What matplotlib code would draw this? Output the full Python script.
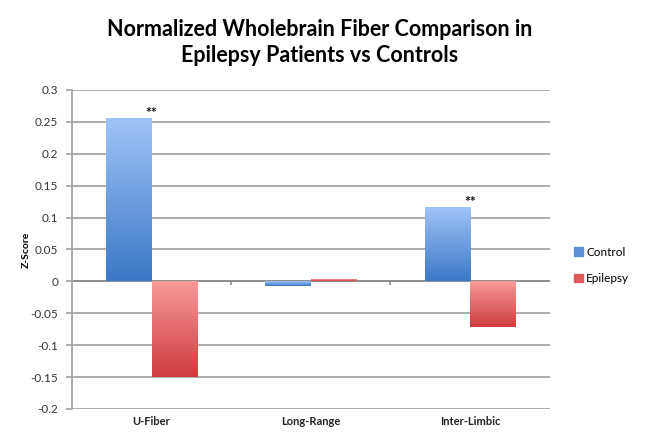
import matplotlib
matplotlib.use("Agg")
import matplotlib.pyplot as plt
import numpy as np
from matplotlib.colors import LinearSegmentedColormap

categories = ["U-Fiber", "Long-Range", "Inter-Limbic"]
control = [0.255, -0.007, 0.115]
epilepsy = [-0.150, 0.003, -0.071]
significant = [True, False, True]
series_names = ["Control", "Epilepsy"]
yticks = [-0.2, -0.15, -0.1, -0.05, 0, 0.05, 0.1, 0.15, 0.2, 0.25, 0.3]
ytick_labels = ["-0.2", "-0.15", "-0.1", "-0.05", "0", "0.05", "0.1", "0.15", "0.2", "0.25", "0.3"]

FONT = ["Lato", "DejaVu Sans"]
plt.rcParams['font.family'] = FONT

fig = plt.figure(figsize=(6.57, 4.42), dpi=100)
ax = fig.add_axes([0.1096, 0.0747, 0.727, 0.7217])

x = np.arange(len(categories))
w = 0.286
grid_c = "#a6a6a6"

blue_cmap = LinearSegmentedColormap.from_list("b", ["#3b78c6", "#9fc4f8"])
red_cmap = LinearSegmentedColormap.from_list("r", ["#cf3c3c", "#f69a99"])

b1 = ax.bar(x - w/2, control, w, color="#5b8fd6", label=series_names[0], zorder=3)
b2 = ax.bar(x + w/2, epilepsy, w, color="#e05a5a", label=series_names[1], zorder=3)

grad = np.linspace(0, 1, 256).reshape(-1, 1)
for bars, cmap in ((b1, blue_cmap), (b2, red_cmap)):
    for p in bars:
        x0 = p.get_x(); y0 = p.get_y(); pw = p.get_width(); ph = p.get_height()
        ylo, yhi = min(y0, y0 + ph), max(y0, y0 + ph)
        ax.imshow(grad, cmap=cmap, aspect='auto', origin='lower',
                  extent=(x0, x0 + pw, ylo, yhi), zorder=3, interpolation='bilinear')
        p.set_facecolor('none')
        p.set_edgecolor('none')

ax.set_xlim(-0.5, 2.5)
ax.set_ylim(-0.2, 0.3)
ax.set_yticks(yticks)
ax.set_yticklabels(ytick_labels, fontsize=8.5, color="#333333")
ax.yaxis.grid(True, color=grid_c, linewidth=1.3, zorder=0)
ax.set_axisbelow(True)

for s in ["top", "right", "bottom"]:
    ax.spines[s].set_visible(False)
ax.spines["left"].set_color(grid_c)
ax.spines["left"].set_linewidth(1.3)
ax.tick_params(axis='y', direction='out', length=4, color=grid_c, width=1.3, pad=6)

ax.set_xticks(x)
ax.set_xticklabels(categories, fontsize=8, fontweight='bold', color="#222222")
ax.tick_params(axis='x', length=0, pad=5)

ax.axhline(0, color="#8c8c8c", linewidth=1.3, zorder=2)
sec = ax.secondary_xaxis(0.4)
sec.set_xticks([0.5, 1.5])
sec.set_xticklabels([])
sec.spines["bottom"].set_visible(False)
sec.tick_params(direction='out', length=3, color="#8c8c8c", width=1.2)

for i, sig in enumerate(significant):
    if sig:
        ax.annotate("**", xy=(x[i], control[i]), xytext=(0, 0), textcoords='offset points',
                    ha='center', va='bottom', fontsize=10, fontweight='bold', color="#111111")

ax.set_ylabel("Z-Score", fontsize=7.5, fontweight='bold', labelpad=0)

fig.text(0.487, 0.903, "Normalized Wholebrain Fiber Comparison in\nEpilepsy Patients vs Controls",
         ha='center', va='center', fontsize=15.5, fontweight='bold', linespacing=1.3)

handles = [plt.Rectangle((0, 0), 1, 1, color="#5b8fd6"), plt.Rectangle((0, 0), 1, 1, color="#e05a5a")]
leg = fig.legend(handles, series_names, loc='center left', bbox_to_anchor=(0.858, 0.400),
                 frameon=False, fontsize=8.5, handlelength=0.7, handleheight=0.7,
                 handletextpad=0.3, labelspacing=1.3)

fig.savefig("out.png", dpi=100)
